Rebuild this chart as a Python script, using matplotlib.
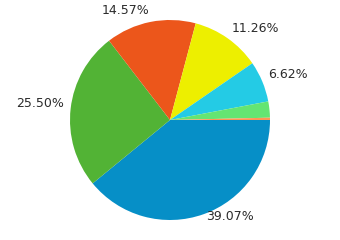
import matplotlib
matplotlib.use("Agg")
import matplotlib.pyplot as plt
import matplotlib.transforms as mtransforms

categories = ["A", "B", "C", "D", "E", "F", "G"]
values = [39.07, 25.50, 14.57, 11.26, 6.62, 2.61, 0.37]
labels = ["39.07%", "25.50%", "14.57%", "11.26%", "6.62%", "", ""]
colors = ["#068FC7", "#52B335", "#EC561B", "#EDEF00", "#24CBE5", "#64E572", "#FF9655"]

fig = plt.figure(figsize=(3.4, 2.4), dpi=100)
ax = fig.add_axes([70/340, 20/240, 200/340, 200/240])
wedges, texts = ax.pie(values, labels=labels, colors=colors, startangle=0,
                       counterclock=False, labeldistance=1.068, radius=1,
                       wedgeprops=dict(linewidth=0),
                       textprops=dict(fontsize=9, color="#2b2b2b", family="DejaVu Sans"))
offset = mtransforms.ScaledTranslation(0, 4.5/100, fig.dpi_scale_trans)
for t in texts:
    t.set_transform(ax.transData + offset)
ax.set_xlim(-1, 1)
ax.set_ylim(-1, 1)
ax.set_aspect("equal")
fig.savefig("out.png", dpi=100)
